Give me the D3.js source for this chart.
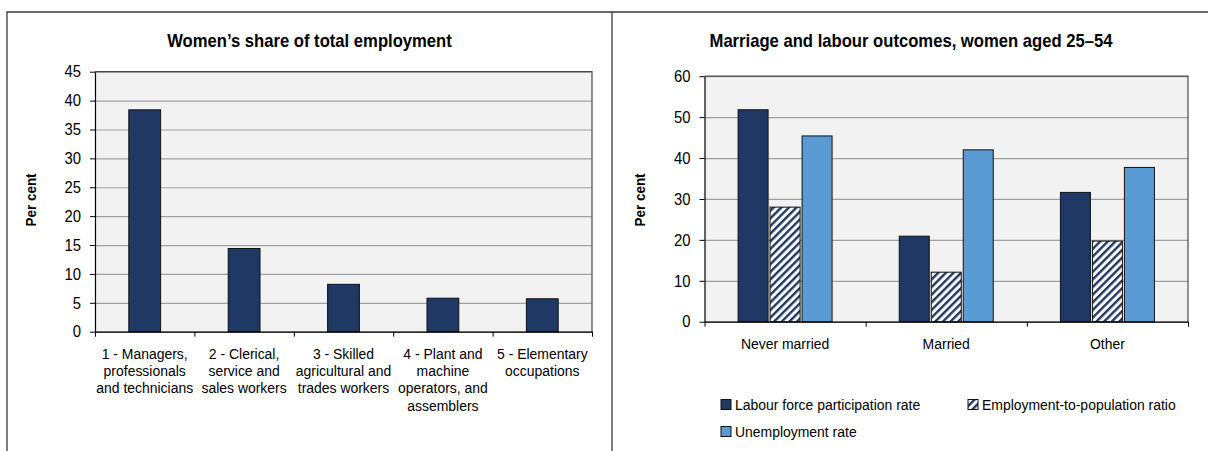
<!DOCTYPE html>
<html>
<head>
<meta charset="utf-8">
<script src="https://cdn.jsdelivr.net/npm/d3@7"></script>
<style>
  body { margin: 0; background: #fff; }
  svg text { font-family: "Liberation Sans", Arial, sans-serif; fill: #000; }
</style>
</head>
<body>
<svg id="chart" width="1208" height="451"></svg>
<script>
// left chart data
var occupations = [
  "1 - Managers,\nprofessionals\nand technicians",
  "2 - Clerical,\nservice and\nsales workers",
  "3 - Skilled\nagricultural and\ntrades workers",
  "4 - Plant and\nmachine\noperators, and\nassemblers",
  "5 - Elementary\noccupations"
];
var womenShare = [38.4, 14.4, 8.2, 5.8, 5.7];
var leftTicks = [0, 5, 10, 15, 20, 25, 30, 35, 40, 45];

// right chart data
var statuses = ["Never married", "Married", "Other"];
var seriesNames = ["Labour force participation rate", "Employment-to-population ratio", "Unemployment rate"];
var lfpr = [51.8, 20.9, 31.6];
var epop = [28.0, 12.1, 19.7];
var unemp = [45.4, 42.0, 37.7];
var rightTicks = [0, 10, 20, 30, 40, 50, 60];

var navy = "#1f3864", lightBlue = "#5b9bd5";

var svg = d3.select("#chart");

// the source uses a condensed face, so squeeze the text a little
function narrow(sel, origin) {
  sel.style("transform-box", "fill-box")
     .style("transform-origin", origin)
     .style("transform", "scaleX(0.9)");
}

// hatch pattern for employment-to-population ratio
var defs = svg.append("defs");
defs.append("pattern")
    .attr("id", "hatch")
    .attr("patternUnits", "userSpaceOnUse")
    .attr("width", 5.4)
    .attr("height", 5.4)
    .attr("patternTransform", "rotate(45)")
  .call(function(p) {
    p.append("rect").attr("width", 5.4).attr("height", 5.4).attr("fill", "#fff");
    p.append("rect").attr("width", 2.4).attr("height", 5.4).attr("fill", navy);
  });

// panel frames
svg.append("path")
    .attr("d", "M7,451V12H1208M612,12V451")
    .attr("fill", "none")
    .attr("stroke", "#3a3a3a")
    .attr("stroke-width", 1.3);

function drawFrame(g, x0, x1, y, top, bottom, ticks) {
  // background + grid
  g.append("rect")
      .attr("x", x0).attr("y", top)
      .attr("width", x1 - x0).attr("height", bottom - top)
      .attr("fill", "#f2f2f2");

  g.append("g")
      .attr("transform", "translate(" + x0 + ",0)")
      .call(d3.axisLeft(y).tickValues(ticks).tickSize(-(x1 - x0)).tickFormat(""))
      .call(function(a) {
        a.select(".domain").remove();
        a.selectAll("line").attr("stroke", "#a0a0a0").attr("stroke-width", 1.2);
      });

  // top and right border of plot area
  g.append("path")
      .attr("d", "M" + x0 + "," + top + "H" + x1 + "V" + bottom)
      .attr("fill", "none")
      .attr("stroke", "#4a4a4a")
      .attr("stroke-width", 1.2);
}

function yAxis(g, x0, y, ticks) {
  g.append("g")
      .attr("transform", "translate(" + x0 + ",0)")
      .call(d3.axisLeft(y).tickValues(ticks).tickSize(5).tickPadding(9).tickSizeOuter(0))
      .call(function(a) {
        a.select(".domain").attr("stroke", "#000").attr("stroke-width", 1.2);
        a.selectAll("line").attr("stroke", "#000");
        a.selectAll("text").style("font-size", "16.5px").attr("fill", "#000").call(narrow, "right center");
      });
}

function xBoundaryAxis(g, x0, x1, n, yPos) {
  var b = d3.scaleLinear().domain([0, n]).range([x0, x1]);
  g.append("g")
      .attr("transform", "translate(0," + yPos + ")")
      .call(d3.axisBottom(b).tickValues(d3.range(n + 1)).tickSize(5).tickSizeOuter(0).tickFormat(""))
      .call(function(a) {
        a.select(".domain").attr("stroke", "#000").attr("stroke-width", 1.2);
        a.selectAll("line").attr("stroke", "#000");
      });
}

function yTitle(g, x, y) {
  g.append("g")
      .attr("transform", "translate(" + x + "," + y + ") rotate(-90)")
    .append("text")
      .attr("text-anchor", "middle")
      .style("font-size", "15px").style("font-weight", "bold")
      .text("Per cent")
      .call(narrow, "center");
}

// ---------- left chart ----------
var L = {left: 95, right: 592, top: 71.7, bottom: 331.7};
var gl = svg.append("g");

var xl = d3.scaleBand().domain(occupations).range([L.left, L.right]).paddingInner(0.68).paddingOuter(0.34);
var yl = d3.scaleLinear().domain([0, 45]).range([L.bottom, L.top]);

drawFrame(gl, L.left, L.right, yl, L.top, L.bottom, leftTicks);

gl.selectAll(".bar")
    .data(occupations)
  .enter().append("rect")
    .attr("x", function(d) { return xl(d); })
    .attr("y", function(d, i) { return yl(womenShare[i]); })
    .attr("width", xl.bandwidth())
    .attr("height", function(d, i) { return L.bottom - yl(womenShare[i]); })
    .attr("fill", navy)
    .attr("stroke", "#111")
    .attr("stroke-width", 1);

yAxis(gl, L.left, yl, leftTicks);
xBoundaryAxis(gl, L.left, L.right, occupations.length, L.bottom);

gl.selectAll(".xlab")
    .data(occupations)
  .enter().append("text")
    .attr("text-anchor", "middle")
    .style("font-size", "15.5px")
  .each(function(d) {
    var t = d3.select(this);
    var cx = xl(d) + xl.bandwidth() / 2;
    d.split("\n").forEach(function(line, k) {
      t.append("tspan").attr("x", cx).attr("y", 358.8 + k * 17.3).text(line);
    });
  })
  .call(narrow, "center");

gl.append("text")
    .attr("x", 309.5).attr("y", 47.5)
    .attr("text-anchor", "middle")
    .style("font-size", "18.5px").style("font-weight", "bold")
    .text("Women\u2019s share of total employment")
    .call(narrow, "center");

yTitle(gl, 36, 200);

// ---------- right chart ----------
var R = {left: 704.5, right: 1188, top: 76.2, bottom: 321.7};
var gr = svg.append("g");

var x0 = d3.scaleBand().domain(statuses).range([R.left, R.right]);
var x1 = d3.scaleBand().domain(seriesNames).range([0, x0.bandwidth()]).paddingInner(0.0625).paddingOuter(1.05);
var yr = d3.scaleLinear().domain([0, 60]).range([R.bottom, R.top]);
var seriesValues = [lfpr, epop, unemp];
var seriesFill = [navy, "url(#hatch)", lightBlue];

drawFrame(gr, R.left, R.right, yr, R.top, R.bottom, rightTicks);

var groups = gr.selectAll(".grp")
    .data(statuses)
  .enter().append("g")
    .attr("transform", function(d) { return "translate(" + x0(d) + ",0)"; });

groups.selectAll("rect")
    .data(function(d, i) { return seriesNames.map(function(s, k) { return {s: s, k: k, v: seriesValues[k][i]}; }); })
  .enter().append("rect")
    .attr("x", function(d) { return x1(d.s); })
    .attr("y", function(d) { return yr(d.v); })
    .attr("width", x1.bandwidth())
    .attr("height", function(d) { return R.bottom - yr(d.v); })
    .attr("fill", function(d) { return seriesFill[d.k]; })
    .attr("stroke", "#111")
    .attr("stroke-width", 1);

yAxis(gr, R.left, yr, rightTicks);
xBoundaryAxis(gr, R.left, R.right, statuses.length, R.bottom);

gr.selectAll(".xlab")
    .data(statuses)
  .enter().append("text")
    .attr("x", function(d) { return x0(d) + x0.bandwidth() / 2; })
    .attr("y", 349)
    .attr("text-anchor", "middle")
    .style("font-size", "15.5px")
    .text(function(d) { return d; })
    .call(narrow, "center");

gr.append("text")
    .attr("x", 911).attr("y", 47.5)
    .attr("text-anchor", "middle")
    .style("font-size", "18.5px").style("font-weight", "bold")
    .text("Marriage and labour outcomes, women aged 25\u201354")
    .call(narrow, "center");

yTitle(gr, 645, 200);

// legend
var legendPos = [[721, 404.5], [968, 404.5], [721, 431.5]];
var legend = gr.selectAll(".leg")
    .data(seriesNames)
  .enter().append("g")
    .attr("transform", function(d, i) { return "translate(" + legendPos[i][0] + "," + legendPos[i][1] + ")"; });

legend.append("rect")
    .attr("x", 0).attr("y", -5)
    .attr("width", 10).attr("height", 10)
    .attr("fill", function(d, i) { return seriesFill[i]; })
    .attr("stroke", "#111")
    .attr("stroke-width", 1);

legend.append("text")
    .attr("x", 14).attr("y", 5.5)
    .style("font-size", "15.5px")
    .text(function(d) { return d; })
    .call(narrow, "left center");
</script>
</body>
</html>
